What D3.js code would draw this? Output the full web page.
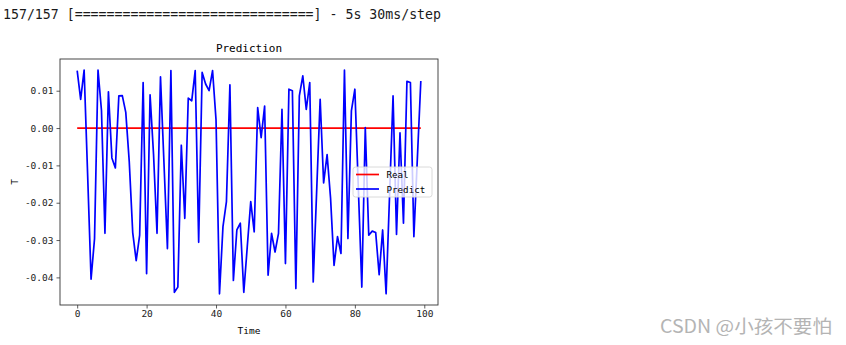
<!DOCTYPE html>
<html>
<head>
<meta charset="utf-8">
<script src="https://cdn.jsdelivr.net/npm/d3@7"></script>
<style>
  html, body { margin: 0; padding: 0; background: #fff; }
  svg { display: block; }
</style>
</head>
<body>
<svg id="chart" width="846" height="345"></svg>
<script>
// Model output on the test set, one value per time step
const predict = [
  0.0154, 0.0077, 0.0155, -0.0122, -0.0405, -0.0296, 0.0155, 0.0047, -0.0282, 0.0097,
  -0.0080, -0.0107, 0.0086, 0.0087, 0.0042, -0.0090, -0.0280, -0.0355, -0.0287, 0.0122,
  -0.0390, 0.0089, -0.0071, -0.0282, 0.0137, -0.0093, -0.0323, 0.0154, -0.0440, -0.0426,
  -0.0046, -0.0242, 0.0080, 0.0073, 0.0154, -0.0306, 0.0149, 0.0118, 0.0100, 0.0154,
  0.0022, -0.0444, -0.0264, -0.0197, 0.0116, -0.0408, -0.0273, -0.0255, -0.0440, -0.0318,
  -0.0197, -0.0278, 0.0055, -0.0026, 0.0059, -0.0394, -0.0282, -0.0332, -0.0282, 0.0050,
  -0.0363, 0.0104, 0.0100, -0.0430, 0.0086, 0.0140, 0.0050, 0.0122, -0.0412, -0.0167,
  0.0077, -0.0147, -0.0071, -0.0188, -0.0368, -0.0291, -0.0336, 0.0155, -0.0296, 0.0046,
  0.0104, -0.0161, -0.0426, 0.0001, -0.0287, -0.0276, -0.0280, -0.0393, -0.0273, -0.0444,
  -0.0179, 0.0086, -0.0285, -0.0013, -0.0255, 0.0125, 0.0122, -0.0291, -0.0082, 0.0126
];

// Ground truth for the same steps
const real = [
  0, 0, 0, 0, 0, 0, 0, 0, 0, 0,
  0, 0, 0, 0, 0, 0, 0, 0, 0, 0,
  0, 0, 0, 0, 0, 0, 0, 0, 0, 0,
  0, 0, 0, 0, 0, 0, 0, 0, 0, 0,
  0, 0, 0, 0, 0, 0, 0, 0, 0, 0,
  0, 0, 0, 0, 0, 0, 0, 0, 0, 0,
  0, 0, 0, 0, 0, 0, 0, 0, 0, 0,
  0, 0, 0, 0, 0, 0, 0, 0, 0, 0,
  0, 0, 0, 0, 0, 0, 0, 0, 0, 0,
  0, 0, 0, 0, 0, 0, 0, 0, 0, 0
];

const xTicks = [0, 20, 40, 60, 80, 100];
const xTickLabels = ["0", "20", "40", "60", "80", "100"];
const yTicks = [0.01, 0.00, -0.01, -0.02, -0.03, -0.04];
const yTickLabels = ["0.01", "0.00", "-0.01", "-0.02", "-0.03", "-0.04"];

const seriesNames = ["Real", "Predict"];
const seriesColors = ["#ff0000", "#0000ff"];

const consoleLine = "157/157 [==============================] - 5s 30ms/step";
const titleText = "Prediction";
const xLabel = "Time";
const yLabel = "T";
const watermark = "CSDN @小孩不要怕";

const svg = d3.select("#chart");
const mono = "'DejaVu Sans Mono', 'Liberation Mono', monospace";

// Progress line printed above the figure
svg.append("text")
  .attr("x", 3).attr("y", 19)
  .attr("font-family", mono)
  .attr("font-size", 13.3)
  .attr("fill", "#1a1a1a")
  .attr("textLength", 438)
  .attr("lengthAdjust", "spacingAndGlyphs")
  .text(consoleLine);

// Axes rectangle
const box = { left: 60, top: 59, right: 438, bottom: 305 };

// matplotlib-style 5% padding around the data
function padded(ext) {
  const span = ext[1] - ext[0];
  return [ext[0] - span * 0.05, ext[1] + span * 0.05];
}

const steps = predict.map((_, i) => i);
const x = d3.scaleLinear()
  .domain(padded(d3.extent(steps)))
  .range([box.left, box.right]);
const y = d3.scaleLinear()
  .domain(padded(d3.extent(predict.concat(real))))
  .range([box.bottom, box.top]);

const g = svg.append("g");

// Series lines
const line = d3.line()
  .x((d, i) => x(i))
  .y(d => y(d));

g.append("path")
  .datum(real)
  .attr("fill", "none")
  .attr("stroke", seriesColors[0])
  .attr("stroke-width", 1.7)
  .attr("d", line);

g.append("path")
  .datum(predict)
  .attr("fill", "none")
  .attr("stroke", seriesColors[1])
  .attr("stroke-width", 1.7)
  .attr("stroke-linejoin", "round")
  .attr("d", line);

// Axes
const xAxis = d3.axisBottom(x)
  .tickValues(xTicks)
  .tickFormat((d, i) => xTickLabels[i])
  .tickSize(3.5)
  .tickPadding(2);
const yAxis = d3.axisLeft(y)
  .tickValues(yTicks)
  .tickFormat((d, i) => yTickLabels[i])
  .tickSize(3.5)
  .tickPadding(3);

const gx = svg.append("g")
  .attr("transform", `translate(0,${box.bottom})`)
  .call(xAxis);
const gy = svg.append("g")
  .attr("transform", `translate(${box.left},0)`)
  .call(yAxis);

[gx, gy].forEach(a => {
  a.select(".domain").remove();
  a.selectAll(".tick line").attr("stroke", "#333").attr("stroke-width", 0.8);
  a.selectAll(".tick text")
    .attr("font-family", mono)
    .attr("font-size", 9.5)
    .attr("fill", "#222");
});

// Frame
svg.append("rect")
  .attr("x", box.left).attr("y", box.top)
  .attr("width", box.right - box.left)
  .attr("height", box.bottom - box.top)
  .attr("fill", "none")
  .attr("stroke", "#333")
  .attr("stroke-width", 0.9);

// Title and axis labels
const cx = (box.left + box.right) / 2;
const cy = (box.top + box.bottom) / 2;

svg.append("text")
  .attr("x", cx).attr("y", 52)
  .attr("text-anchor", "middle")
  .attr("font-family", mono)
  .attr("font-size", 11)
  .attr("fill", "#000")
  .text(titleText);

svg.append("text")
  .attr("x", cx).attr("y", 334)
  .attr("text-anchor", "middle")
  .attr("font-family", mono)
  .attr("font-size", 9.5)
  .attr("fill", "#000")
  .text(xLabel);

svg.append("text")
  .attr("transform", `translate(18,${cy}) rotate(-90)`)
  .attr("text-anchor", "middle")
  .attr("font-family", mono)
  .attr("font-size", 9.5)
  .attr("fill", "#000")
  .text(yLabel);

// Legend
const legend = svg.append("g").attr("transform", "translate(353,167)");
legend.append("rect")
  .attr("width", 79).attr("height", 30)
  .attr("rx", 2.5).attr("ry", 2.5)
  .attr("fill", "#fff").attr("fill-opacity", 0.8)
  .attr("stroke", "#d6d6d6").attr("stroke-width", 0.9);

seriesNames.forEach((name, i) => {
  const yy = 7.5 + i * 14.5;
  legend.append("line")
    .attr("x1", 3).attr("x2", 26)
    .attr("y1", yy).attr("y2", yy)
    .attr("stroke", seriesColors[i])
    .attr("stroke-width", 1.7);
  legend.append("text")
    .attr("x", 33.5).attr("y", yy + 3.5)
    .attr("font-family", mono)
    .attr("font-size", 9.2)
    .attr("fill", "#000")
    .text(name);
});

// Watermark
svg.append("text")
  .attr("x", 660).attr("y", 333)
  .attr("font-family", "'Noto Sans CJK SC', 'Noto Sans', sans-serif")
  .attr("font-size", 18)
  .attr("fill", "#b4b4b4")
  .attr("textLength", 172)
  .attr("lengthAdjust", "spacingAndGlyphs")
  .text(watermark);
</script>
</body>
</html>
